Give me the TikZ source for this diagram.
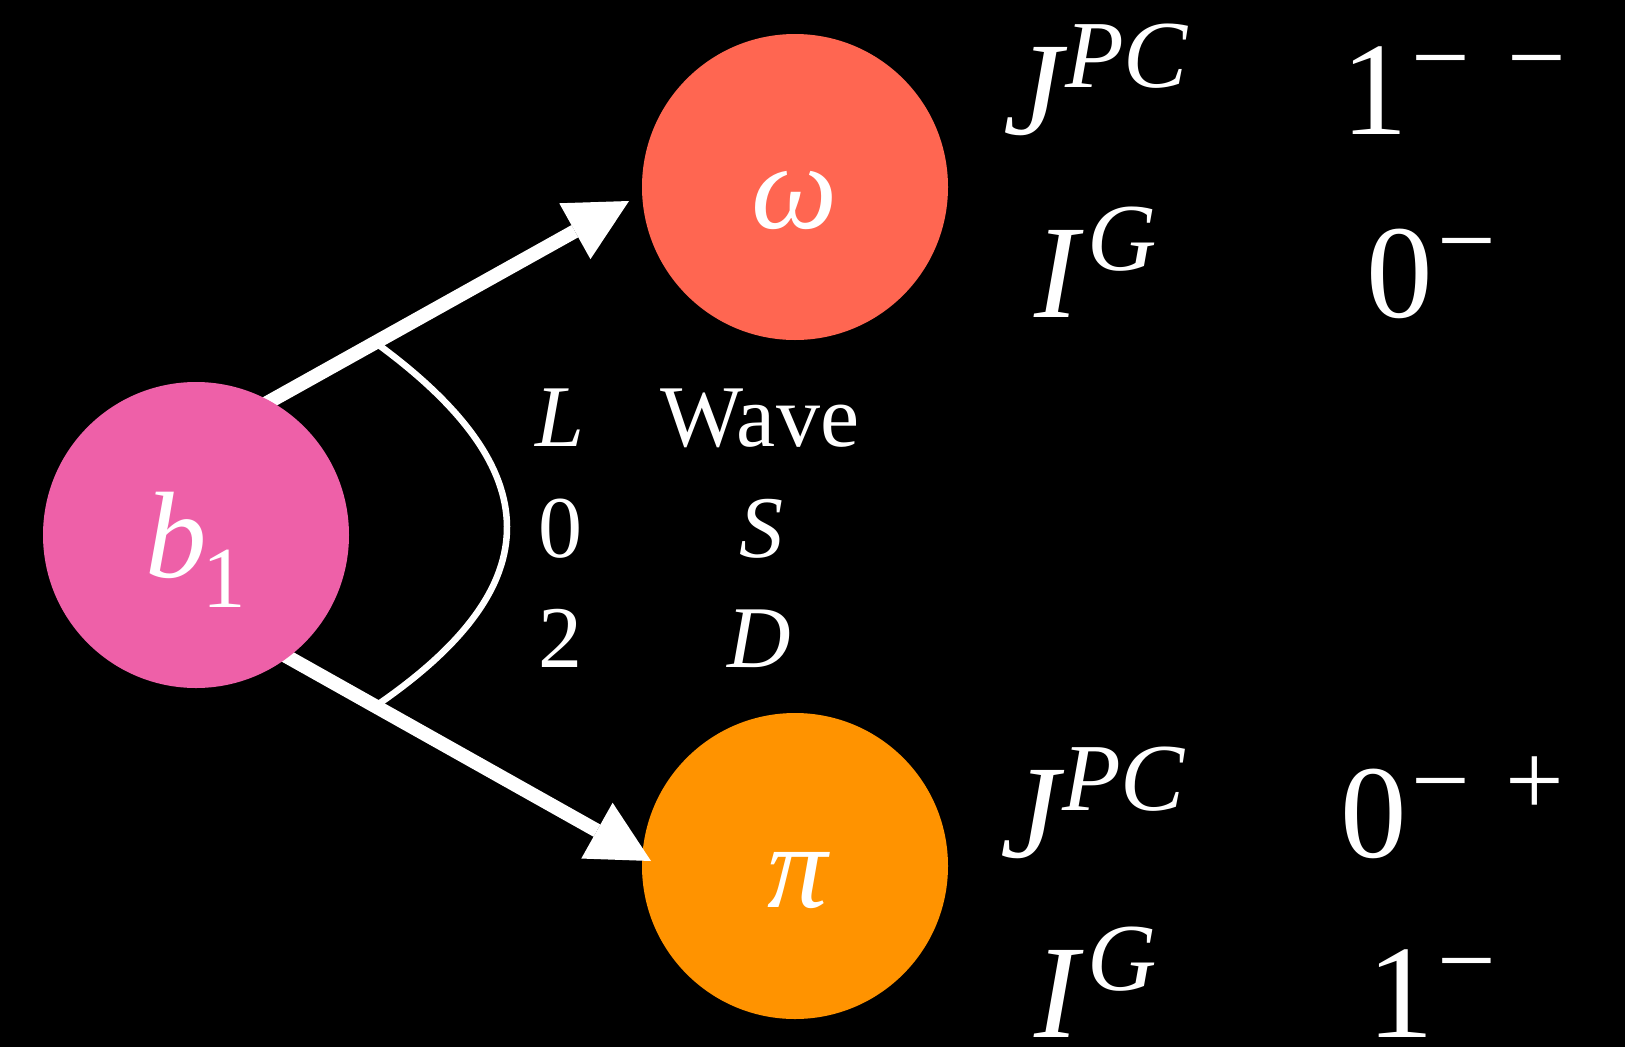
\documentclass[tikz,border=0pt]{standalone}
\usepackage{fontspec}
\setmainfont{Liberation Serif}
\usetikzlibrary{arrows.meta}
\definecolor{pinkb}{RGB}{238,96,168}
\definecolor{omegac}{RGB}{255,102,81}
\definecolor{pionc}{RGB}{255,147,0}
\newcommand{\myfs}[1]{\fontsize{#1}{#1}\selectfont}
\pgfdeclarelayer{bg}
\pgfsetlayers{bg,main}
\begin{document}
\begin{tikzpicture}[x=1pt,y=-1pt,
  ball/.style={circle,minimum size=306pt,inner sep=0pt,outer sep=0pt},
  txt/.style={text=white,inner sep=0pt,outer sep=0pt},
  midtxt/.style={txt,anchor=base,font=\myfs{88}},
  bigtxt/.style={txt,anchor=base west,font=\myfs{133}},
  arr/.style={white,line width=14pt,shorten <=-12pt,
    -{Triangle[length=62pt,width=64pt,line width=0pt]}},
  arcline/.style={white,line width=6.5pt}]
\useasboundingbox (0,0) rectangle (1625,1047);
\begin{pgfonlayer}{bg}
  \fill[black] (0,0) rectangle (1625,1047);
  \node[ball,fill=omegac] (omega) at (795,187) {};
  \node[ball,fill=pionc] (pi) at (795,866) {};
\end{pgfonlayer}
\node[ball,fill=pinkb] (b1) at (196,535) {};
\begin{pgfonlayer}{bg}
  \coordinate (as) at (376,343);
  \coordinate (ae) at (380,703);
  \draw[arcline] (as) .. controls (550,470) and (550,585) .. (ae);
  \draw[arr] (b1.61) -- ([shift={(-13,14)}]omega.west);
  \draw[arr] (b1.-53) -- ([shift={(9,-5)}]pi.west);
\end{pgfonlayer}
% particle labels
\node[txt,anchor=base west,font=\myfs{123}] (b1t) at (145,577)
  {\itshape b\kern-4pt\raisebox{-30pt}{\myfs{87}\upshape 1}};
\node[txt,font=\myfs{122}\itshape] (omt) at (795,200) {ω};
\node[txt,font=\myfs{120}\itshape] (pit) at (798,881) {π};
% middle table
\node[midtxt] (Lh) at (560,446) {\itshape L};
\node[midtxt] (Wh) at (760,446) {Wave};
\node[midtxt] (L0) at (560,557) {0};
\node[midtxt] (Ws) at (761,557) {\itshape S};
\node[midtxt] (L2) at (560,667) {2};
\node[midtxt] (Wd) at (759,667) {\itshape D};
% right quantum numbers
\node[bigtxt] (jpc1) at (1003,134) {\itshape J\kern3pt\raisebox{47pt}{\myfs{96}PC}};
\node[bigtxt] (ig1) at (1034,317) {\itshape I\kern9pt\raisebox{47pt}{\myfs{96}G}};
\node[bigtxt] (v1) at (1341,134) {1\raisebox{42pt}{\myfs{104}\kern3.5pt−\kern38pt−}};
\node[bigtxt] (v2) at (1366,317) {0\raisebox{42pt}{\myfs{104}\kern4.5pt−}};
\node[bigtxt] (jpc2) at (1000,857) {\itshape J\kern3pt\raisebox{47pt}{\myfs{96}PC}};
\node[bigtxt] (ig2) at (1034,1037) {\itshape I\kern9pt\raisebox{47pt}{\myfs{96}G}};
\node[bigtxt] (v3) at (1340,857) {0\raisebox{42pt}{\myfs{104}\kern4.5pt−\kern36pt+}};
\node[bigtxt] (v4) at (1367,1037) {1\raisebox{42pt}{\myfs{104}\kern3.5pt−}};
\end{tikzpicture}
\end{document}
